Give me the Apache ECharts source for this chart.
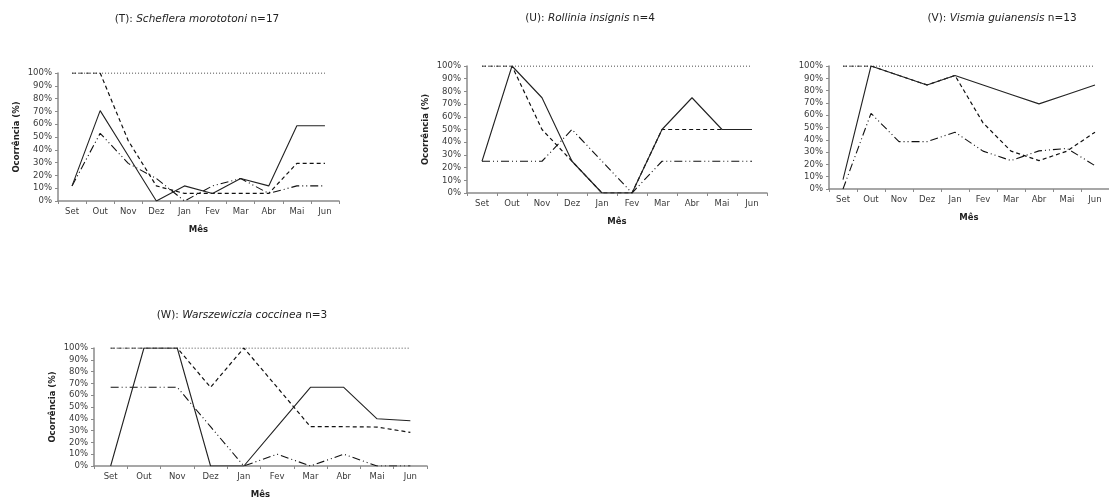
<!DOCTYPE html>
<html>
<head>
<meta charset="utf-8">
<script src="https://cdn.jsdelivr.net/npm/echarts@6/dist/echarts.min.js"></script>
<style>
	html, body { margin: 0; padding: 0; background: #fff; }
	#chart { width: 1109px; height: 500px; }
</style>
</head>
<body>
<div id="chart"></div>
<script>
	const meses = ['Set', 'Out', 'Nov', 'Dez', 'Jan', 'Fev', 'Mar', 'Abr', 'Mai', 'Jun']

	// (T) Scheflera morototoni n=17
	const tPontilhado = [100, 100, 100, 100, 100, 100, 100, 100, 100, 100]
	const tTracejado = [100, 100, 47.1, 11.8, 5.9, 5.9, 5.9, 5.9, 29.4, 29.4]
	const tContinuo = [11.8, 70.6, 35.3, 0, 11.8, 5.9, 17.6, 11.8, 58.8, 58.8]
	const tTracoPonto = [11.8, 52.9, 29.4, 17.6, 0, 11.8, 17.6, 5.9, 11.8, 11.8]

	// (U) Rollinia insignis n=4
	const uPontilhado = [100, 100, 100, 100, 100, 100, 100, 100, 100, 100]
	const uTracejado = [100, 100, 50, 25, 0, 0, 50, 50, 50, 50]
	const uContinuo = [25, 100, 75, 25, 0, 0, 50, 75, 50, 50]
	const uTracoPonto = [25, 25, 25, 50, 25, 0, 25, 25, 25, 25]

	// (V) Vismia guianensis n=13
	const vPontilhado = [100, 100, 100, 100, 100, 100, 100, 100, 100, 100]
	const vTracejado = [100, 100, 92.3, 84.6, 92.3, 53.8, 30.8, 23.1, 30.8, 46.2]
	const vContinuo = [7.7, 100, 92.3, 84.6, 92.3, 84.6, 76.9, 69.2, 76.9, 84.6]
	const vTracoPonto = [0, 61.5, 38.5, 38.5, 46.2, 30.8, 23.1, 31, 33, 19]

	// (W) Warszewiczia coccinea n=3
	const wPontilhado = [100, 100, 100, 100, 100, 100, 100, 100, 100, 100]
	const wTracejado = [100, 100, 100, 66.7, 100, 66.7, 33.3, 33.3, 33, 28.5]
	const wContinuo = [0, 100, 100, 0, 0, 33.3, 66.7, 66.7, 40, 38.3]
	const wTracoPonto = [66.7, 66.7, 66.7, 33.3, 0, 10, 0, 10, 0, 0]

	const paineis = [
		{ letra: 'T', especie: 'Scheflera morototoni', n: 17, dados: [tPontilhado, tTracejado, tContinuo, tTracoPonto] },
		{ letra: 'U', especie: 'Rollinia insignis', n: 4, dados: [uPontilhado, uTracejado, uContinuo, uTracoPonto] },
		{ letra: 'V', especie: 'Vismia guianensis', n: 13, dados: [vPontilhado, vTracejado, vContinuo, vTracoPonto] },
		{ letra: 'W', especie: 'Warszewiczia coccinea', n: 3, dados: [wPontilhado, wTracejado, wContinuo, wTracoPonto] }
	]

	// posição de cada gráfico (px)
	const grades = [
		{ left: 58, top: 73, width: 281, height: 128 },
		{ left: 467, top: 66, width: 300, height: 127 },
		{ left: 829, top: 66, width: 283, height: 123 },
		{ left: 94, top: 348, width: 333, height: 119 }
	]
	const titulos = [
		{ x: 192, y: 9 },
		{ x: 585, y: 8 },
		{ x: 997, y: 8 },
		{ x: 237, y: 305 }
	]
	const comNomeY = [true, true, false, true]

	const fonte = 'DejaVu Sans, Verdana, sans-serif'
	const corEixo = '#8a8a8a'
	const corTexto = '#3a3a3a'
	const estilos = [
		{ type: [1, 2], width: 1, color: '#111' },
		{ type: [4, 3], width: 1.2, color: '#111' },
		{ type: 'solid', width: 1.1, color: '#222' },
		{ type: [8, 3, 1, 3, 1, 3], width: 1.1, color: '#111' }
	]

	const option = {
		animation: false,
		backgroundColor: '#fff',
		title: paineis.map((p, i) => ({
			text: '(' + p.letra + '): {i|' + p.especie + '} n=' + p.n,
			left: titulos[i].x,
			top: titulos[i].y,
			textAlign: 'center',
			textStyle: {
				fontFamily: fonte,
				fontSize: 10.5,
				fontWeight: 'normal',
				color: '#222',
				rich: {
					i: { fontFamily: fonte, fontSize: 10.5, fontStyle: 'italic', color: '#222' }
				}
			}
		})),
		grid: grades,
		xAxis: grades.map((g, i) => ({
			type: 'category',
			gridIndex: i,
			data: meses,
			boundaryGap: true,
			name: 'Mês',
			nameLocation: 'middle',
			nameGap: 24,
			nameTextStyle: { fontFamily: fonte, fontSize: 8.5, fontWeight: 'bold', color: '#222' },
			axisLine: { lineStyle: { color: corEixo, width: 1.5 } },
			axisTick: { show: true, length: 3, lineStyle: { color: corEixo } },
			axisLabel: { fontFamily: fonte, fontSize: 8.5, color: corTexto, margin: 6, interval: 0 },
			splitLine: { show: false }
		})),
		yAxis: grades.map((g, i) => ({
			type: 'value',
			gridIndex: i,
			min: 0,
			max: 100,
			interval: 10,
			name: comNomeY[i] ? 'Ocorrência (%)' : '',
			nameLocation: 'middle',
			nameRotate: 90,
			nameGap: 37,
			nameTextStyle: { fontFamily: fonte, fontSize: 8.5, fontWeight: 'bold', color: '#222' },
			axisLine: { show: true, lineStyle: { color: corEixo, width: 1.5 } },
			axisTick: { show: true, length: 3, lineStyle: { color: corEixo } },
			axisLabel: { fontFamily: fonte, fontSize: 8.5, color: corTexto, margin: 6, formatter: '{value}%' },
			splitLine: { show: false }
		})),
		series: []
	}

	paineis.forEach((p, i) => {
		p.dados.forEach((d, k) => {
			option.series.push({
				type: 'line',
				xAxisIndex: i,
				yAxisIndex: i,
				data: d,
				symbol: 'none',
				lineStyle: estilos[k],
				z: k === 2 ? 3 : 2
			})
		})
	})

	const grafico = echarts.init(document.getElementById('chart'))
	grafico.setOption(option)
	window.onresize = () => {
		grafico.resize()
	}
</script>
</body>
</html>
